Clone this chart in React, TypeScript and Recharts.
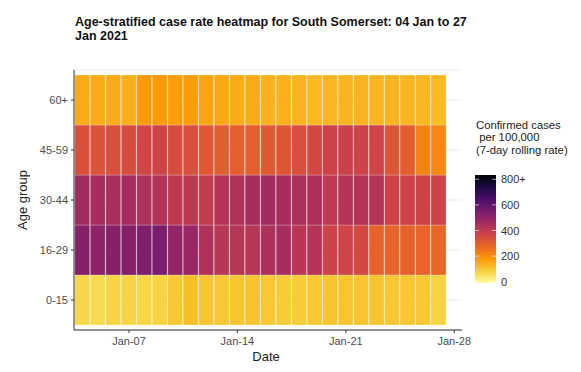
import React from 'react';
import { BarChart, Bar, XAxis, YAxis, CartesianGrid, Cell } from 'recharts';

// days of January 2021 shown on the x axis
const days = [4, 5, 6, 7, 8, 9, 10, 11, 12, 13, 14, 15, 16, 17, 18, 19, 20, 21, 22, 23, 24, 25, 26, 27];
const ageGroups = ['0-15', '16-29', '30-44', '45-59', '60+'];
const dateTicks = [7, 14, 21, 28];
const legendTicks = [0, 200, 400, 600, 800];

// 7-day rolling rate per 100,000
const rate0to15 = [78, 70, 82, 82, 80, 85, 100, 118, 105, 103, 105, 110, 103, 95, 96, 103, 108, 108, 107, 107, 104, 104, 100, 82];
const rate16to29 = [505, 490, 505, 510, 520, 530, 482, 470, 422, 405, 408, 408, 425, 440, 402, 410, 358, 355, 345, 282, 278, 285, 280, 276];
const rate30to44 = [450, 440, 435, 445, 425, 420, 395, 395, 385, 415, 420, 440, 450, 440, 430, 428, 392, 410, 415, 410, 360, 358, 360, 358];
const rate45to59 = [330, 320, 328, 335, 352, 355, 335, 330, 305, 295, 292, 290, 305, 310, 330, 345, 362, 368, 360, 355, 315, 295, 220, 212];
const rate60plus = [150, 148, 150, 145, 180, 178, 172, 175, 160, 155, 150, 148, 140, 138, 135, 128, 132, 135, 135, 132, 135, 132, 130, 125];

const rates = [rate0to15, rate16to29, rate30to44, rate45to59, rate60plus];

// inferno, reversed: 0 -> pale yellow, 800 -> black
const inferno = ['#FCFFA4', '#F7D03C', '#FB9A06', '#ED6925', '#CF4446', '#A52C60', '#781C6D', '#4B0C6B', '#1B0C42', '#000004'];

const hex = (c: string) => [1, 3, 5].map((i) => parseInt(c.slice(i, i + 2), 16));

const rateColor = (v: number) => {
  const t = Math.max(0, Math.min(1, v / 800)) * (inferno.length - 1);
  const i = Math.min(inferno.length - 2, Math.floor(t));
  const f = t - i;
  const a = hex(inferno[i]);
  const b = hex(inferno[i + 1]);
  const m = a.map((x, k) => Math.round(x + (b[k] - x) * f));
  return `rgb(${m[0]},${m[1]},${m[2]})`;
};

const data = days.map((day) => ({ day, g0: 1, g1: 1, g2: 1, g3: 1, g4: 1 }));

const font = '"Liberation Sans", Arial, sans-serif';
const tickStyle = { fontSize: 11, fill: '#4d4d4d', fontFamily: font };

// colour bar geometry
const barTop = 175;
const barBottom = 283;
const zeroY = 281.7;
const pxPerUnit = 0.128;

export default function App() {
  return (
    <div style={{ position: 'absolute', left: 0, top: 0, width: 581, height: 372, background: '#fff' }}>
      <BarChart
        width={581}
        height={372}
        data={data}
        margin={{ top: 70, right: 119, bottom: 12, left: 30 }}
        barCategoryGap={0}
        barGap={0}
      >
        <CartesianGrid vertical={false} stroke="#ebebeb" strokeWidth={1} />
        <XAxis
          dataKey="day"
          type="number"
          domain={[3.45, 28.5]}
          ticks={dateTicks}
          tickFormatter={(d: number) => `Jan-${String(d).padStart(2, '0')}`}
          tick={tickStyle}
          tickSize={3}
          tickMargin={4}
          height={30}
          stroke="#333"
          allowDataOverflow
        />
        <YAxis
          type="number"
          domain={[-0.1, 5.1]}
          ticks={[0.5, 1.5, 2.5, 3.5, 4.5]}
          tickFormatter={(v: number) => ageGroups[Math.floor(v)]}
          tick={tickStyle}
          tickSize={3}
          tickMargin={3}
          width={44}
          stroke="#333"
          allowDataOverflow
        />
        {rates.map((series, k) => (
          <Bar key={k} dataKey={`g${k}`} stackId="age" isAnimationActive={false}>
            {series.map((v, i) => (
              <Cell key={i} fill={rateColor(v)} stroke="rgba(255,255,255,0.4)" strokeWidth={0.6} />
            ))}
          </Bar>
        ))}
      </BarChart>

      <svg width={581} height={372} style={{ position: 'absolute', left: 0, top: 0, pointerEvents: 'none' }}>
        <defs>
          <linearGradient id="rateBar" x1="0" y1="1" x2="0" y2="0">
            {inferno.map((c, i) => (
              <stop key={i} offset={i / (inferno.length - 1)} stopColor={c} />
            ))}
          </linearGradient>
        </defs>
        <g fontFamily={font} fill="#111" fontWeight="bold" fontSize={12.5}>
          <text x={75} y={26}>Age-stratified case rate heatmap for South Somerset: 04 Jan to 27</text>
          <text x={75} y={40}>Jan 2021</text>
        </g>
        <text x={266} y={361} textAnchor="middle" fontFamily={font} fontSize={13} fill="#222">Date</text>
        <text
          x={0}
          y={0}
          transform="translate(27,200) rotate(-90)"
          textAnchor="middle"
          fontFamily={font}
          fontSize={13}
          fill="#222"
        >
          Age group
        </text>
        <g fontFamily={font} fontSize={11.3} fill="#222">
          <text x={476} y={129}>Confirmed cases</text>
          <text x={476} y={141} xmlSpace="preserve"> per 100,000</text>
          <text x={476} y={154}>(7-day rolling rate)</text>
        </g>
        <rect x={475} y={barTop} width={21} height={barBottom - barTop} fill="url(#rateBar)" />
        {legendTicks.map((v) => {
          const y = zeroY - v * pxPerUnit;
          return (
            <g key={v}>
              <line x1={475} x2={479} y1={y} y2={y} stroke="#fff" strokeOpacity={0.6} />
              <line x1={492} x2={496} y1={y} y2={y} stroke="#fff" strokeOpacity={0.6} />
              <text x={501} y={y + 4} fontFamily={font} fontSize={11} fill="#333">
                {v === 800 ? '800+' : v}
              </text>
            </g>
          );
        })}
      </svg>
    </div>
  );
}
